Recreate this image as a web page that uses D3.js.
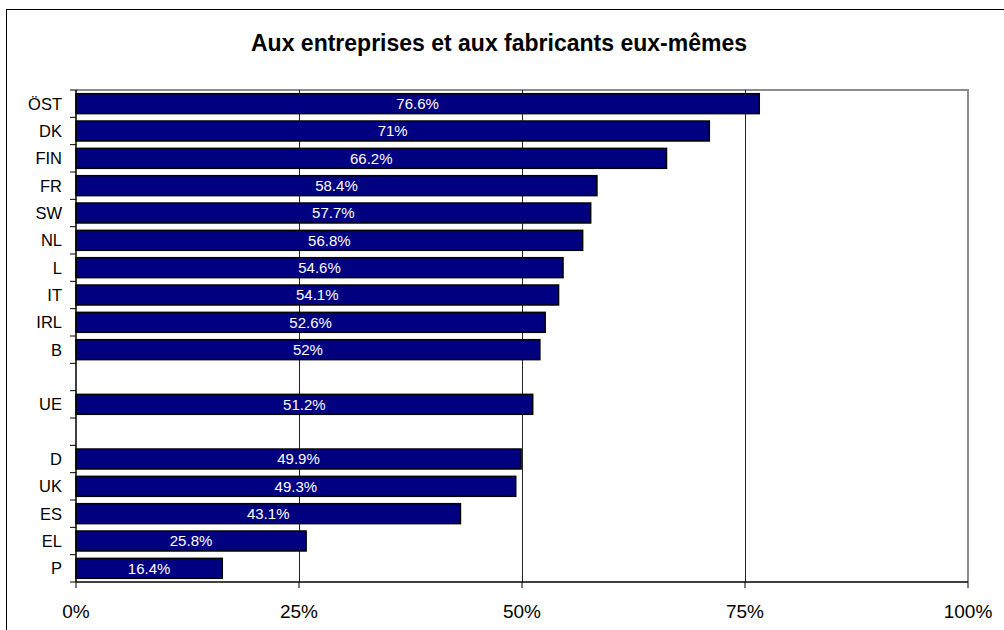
<!DOCTYPE html>
<html><head><meta charset="utf-8">
<script src="https://cdn.jsdelivr.net/npm/d3@7"></script>
<style>body{margin:0;background:#fff}svg{display:block;font-family:"Liberation Sans",Arial,sans-serif}</style>
</head><body>
<script>
const categories = ["ÖST","DK","FIN","FR","SW","NL","L","IT","IRL","B","gap1","UE","gap2","D","UK","ES","EL","P"];
const values = [76.6,71,66.2,58.4,57.7,56.8,54.6,54.1,52.6,52,null,51.2,null,49.9,49.3,43.1,25.8,16.4];
const valueLabels = ["76.6%","71%","66.2%","58.4%","57.7%","56.8%","54.6%","54.1%","52.6%","52%","","51.2%","","49.9%","49.3%","43.1%","25.8%","16.4%"];
const xTicks = [0,25,50,75,100];
const title = "Aux entreprises et aux fabricants eux-mêmes";

(function(){
const W = 1004, H = 630;
const pL = 76, pR = 968, pT = 90, pB = 582;
const svg = d3.select("body").append("svg").attr("width", W).attr("height", H);

svg.append("rect").attr("x",6.5).attr("y",9.5).attr("width",1010).attr("height",640)
  .attr("fill","#fff").attr("stroke","#000").attr("stroke-width",1);

svg.append("text").attr("x",499).attr("y",51).attr("text-anchor","middle")
  .attr("font-size","23px").attr("font-weight","bold").text(title);

const x = d3.scaleLinear().domain([0,100]).range([pL,pR]);
const y = d3.scaleBand().domain(categories).range([pT,pB]).paddingInner(0.27).paddingOuter(0.135);
const yb = d3.scaleBand().domain(categories).range([pT,pB]);

svg.append("path").attr("d",`M${pL},${pT}H${pR}V${pB}`).attr("fill","none")
  .attr("stroke","#8c8c8c").attr("stroke-width",2);

svg.append("g").selectAll("line").data(xTicks.filter(t=>t>0&&t<100)).join("line")
  .attr("x1",d=>Math.round(x(d))+0.5).attr("x2",d=>Math.round(x(d))+0.5)
  .attr("y1",pT).attr("y2",pB).attr("stroke","#222").attr("stroke-width",1);

const rows = categories.map((c,i)=>({c, v:values[i], lab:valueLabels[i]})).filter(d=>d.v!=null);
svg.append("g").selectAll("rect").data(rows).join("rect")
  .attr("x",x(0)).attr("y",d=>y(d.c)).attr("width",d=>x(d.v)-x(0)).attr("height",y.bandwidth())
  .attr("fill","#000080").attr("stroke","#000").attr("stroke-width",1.5);

svg.append("g").selectAll("text").data(rows).join("text")
  .attr("x",d=>(x(0)+x(d.v))/2).attr("y",d=>y(d.c)+y.bandwidth()/2).attr("dy","0.36em")
  .attr("text-anchor","middle").attr("fill","#fff").attr("font-size","15px").text(d=>d.lab);

const ya = svg.append("g").attr("transform",`translate(${pL},0)`);
ya.append("line").attr("x1",0).attr("x2",0).attr("y1",pT).attr("y2",pB).attr("stroke","#000").attr("stroke-width",1.5);
const bounds = categories.map(c=>yb(c)).concat([pB]);
ya.selectAll("line.t").data(bounds).join("line").attr("class","t")
  .attr("x1",-6).attr("x2",0).attr("y1",d=>d).attr("y2",d=>d).attr("stroke","#000");
ya.selectAll("text").data(categories.filter(c=>!c.startsWith("gap"))).join("text")
  .attr("x",-14).attr("y",d=>yb(d)+yb.bandwidth()/2).attr("dy","0.36em")
  .attr("text-anchor","end").attr("font-size","16.5px").text(d=>d);

const xa = svg.append("g").attr("transform",`translate(0,${pB})`);
xa.append("line").attr("x1",pL).attr("x2",pR).attr("stroke","#000").attr("stroke-width",1.5);
xa.selectAll("line.t").data(xTicks).join("line").attr("class","t")
  .attr("x1",d=>x(d)).attr("x2",d=>x(d)).attr("y1",0).attr("y2",6).attr("stroke","#000");
xa.selectAll("text").data(xTicks).join("text")
  .attr("x",d=>x(d)).attr("y",36).attr("text-anchor","middle").attr("font-size","19px").text(d=>d+"%");
})();
</script>
</body></html>
